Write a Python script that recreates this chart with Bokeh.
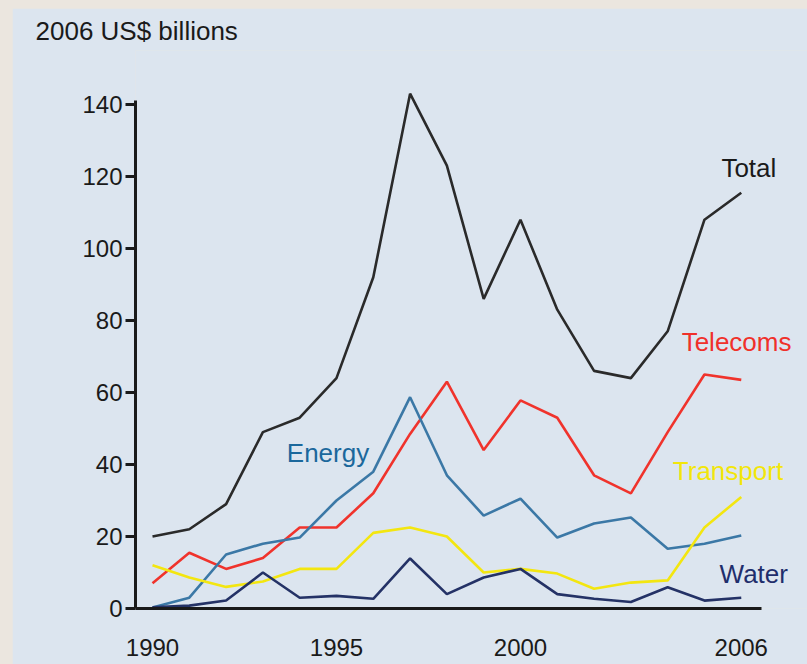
from bokeh.plotting import figure
from bokeh.models import Range1d, FixedTicker, Label, Column
from bokeh.embed import file_html
from bokeh.resources import INLINE

years = list(range(1990, 2007))
total = [20, 22, 29, 49, 53, 64, 92, 143, 123, 86, 108, 83, 66, 64, 77, 108, 115.5]
telecoms = [7, 15.5, 11, 14, 22.5, 22.5, 32, 48.5, 63, 44, 57.8, 53, 37, 32, 49, 65, 63.5]
energy = [0.3, 3, 15, 18, 19.7, 30, 38, 58.7, 37, 25.8, 30.5, 19.7, 23.6, 25.3, 16.6, 18, 20.3]
transport = [12, 8.6, 6, 7.5, 11, 11, 21, 22.5, 20, 10, 11, 9.7, 5.5, 7.2, 7.8, 22.5, 31]
water = [0.3, 0.8, 2.2, 10, 3, 3.5, 2.7, 13.9, 4, 8.6, 11, 4, 2.7, 1.8, 5.9, 2.2, 3]
series_names = ["Total", "Telecoms", "Energy", "Transport", "Water"]
x_ticks = [1990, 1995, 2000, 2006]
y_ticks = [0, 20, 40, 60, 80, 100, 120, 140]
unit_title = "2006 US$ billions"

BG = "#dce5ef"
OUTER = "#ebe6df"
FONT = "Liberation Sans"
INK = "#1a1a1a"

p = figure(width=795, height=656, output_backend="svg", toolbar_location=None,
           x_range=Range1d(1989.538, 2007.8), y_range=Range1d(0, 155),
           min_border_left=123, min_border_right=0, min_border_top=42, min_border_bottom=56)
p.margin = (8, 0, 0, 12)
p.background_fill_color = BG
p.border_fill_color = BG
p.outline_line_color = None
p.grid.visible = False

p.title.text = unit_title
p.title.align = "left"
p.title.offset = -100
p.title.text_font = FONT
p.title.text_font_size = "26px"
p.title.text_font_style = "normal"
p.title.text_color = INK

for ax in (p.xaxis[0], p.yaxis[0]):
    ax.axis_line_width = 3
    ax.axis_line_color = INK
    ax.major_label_text_font = FONT
    ax.major_label_text_font_size = "24px"
    ax.major_label_text_color = INK
    ax.minor_tick_line_color = None

p.xaxis.ticker = FixedTicker(ticks=x_ticks)
p.xaxis.bounds = (1989.5, 2006.55)
p.xaxis.major_tick_line_color = None
p.xaxis.major_tick_out = 0
p.xaxis.major_tick_in = 0
p.xaxis.major_label_standoff = 30

p.yaxis.ticker = FixedTicker(ticks=y_ticks)
p.yaxis.bounds = (0, 141)
p.yaxis.major_tick_line_width = 3
p.yaxis.major_tick_line_color = INK
p.yaxis.major_tick_out = 10
p.yaxis.major_tick_in = 0
p.yaxis.major_label_standoff = 3

series_vals = [total, telecoms, energy, transport, water]
line_colors = ["#2a2a2a", "#f0332c", "#3b78a6", "#f3e610", "#243266"]
text_colors = [INK, "#f0302a", "#1b689c", "#f2e60a", "#1f2e6c"]
label_pos = [(2005.46, 122.5), (2004.38, 73.9), (1993.65, 43.3), (2004.14, 38.3), (2005.41, 9.7)]

for vals, col in zip(series_vals, line_colors):
    p.line(years, vals, line_color=col, line_width=2.6)

for name, col, (lx, ly) in zip(series_names, text_colors, label_pos):
    p.add_layout(Label(x=lx, y=ly, text=name, text_color=col, text_font=FONT,
                       text_font_size="26px", text_baseline="middle", text_align="left"))

page = Column(children=[p], styles={"background-color": OUTER})
open("out.html", "w").write(file_html(page, INLINE))
